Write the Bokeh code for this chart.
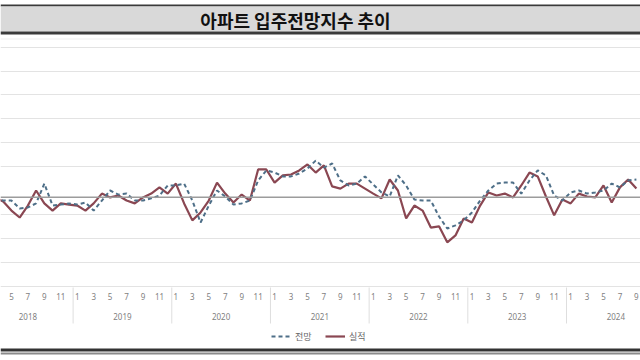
import pandas as pd
from bokeh.plotting import figure
from bokeh.models import (Range1d, FixedTicker, Span, BoxAnnotation, Label,
                          Legend, LegendItem)
from bokeh.core.properties import value
from bokeh.embed import file_html
from bokeh.resources import INLINE

TITLE = "아파트 입주전망지수 추이"
SERIES_FORECAST = "전망"
SERIES_ACTUAL = "실적"

# monthly categories 2018-03 .. 2024-09
months = pd.date_range("2018-03-01", "2024-09-01", freq="MS")

forecast = [
    76.7, 75.8, 75.8, 72.5, 72.9, 74.6, 82.9, 73.7, 74.1, 74.6,
    74.1, 75.0, 71.6, 75.8, 80.0, 78.3, 78.7, 75.8, 75.8, 76.7, 77.9, 82.1,
    82.1, 82.9, 75.8, 66.6, 73.7, 80.0, 77.5, 74.1, 74.6, 75.8, 84.2, 88.4,
    87.5, 85.9, 85.9, 87.1, 89.2, 92.5, 89.6, 91.3, 84.2, 82.1, 82.9, 85.9,
    82.5, 79.2, 77.5, 86.3, 82.1, 76.2, 75.8, 75.8, 69.1, 64.1, 65.4, 67.5,
    70.8, 75.8, 80.0, 82.9, 83.3, 83.3, 78.7, 84.2, 88.4, 86.3, 77.9, 75.8,
    79.2, 80.0, 78.7, 79.2, 80.0, 82.9, 81.3, 84.2, 84.6,
]
actual = [
    77.1, 75.4, 71.6, 68.7, 73.7, 80.0, 74.6, 71.6, 74.6, 74.1,
    73.7, 71.6, 74.6, 78.7, 77.1, 77.9, 75.8, 74.6, 77.1, 78.7, 81.3, 78.7,
    82.9, 74.6, 67.5, 70.8, 75.8, 83.3, 78.7, 75.0, 78.3, 75.8, 88.8, 88.8,
    83.3, 86.3, 86.7, 88.4, 90.9, 87.5, 90.5, 81.7, 80.8, 82.9, 82.9, 80.8,
    78.7, 76.7, 84.6, 80.0, 68.3, 73.7, 71.6, 64.5, 65.0, 58.3, 61.2, 68.3,
    66.6, 73.7, 79.2, 77.9, 78.7, 77.1, 82.1, 87.5, 85.9, 77.5, 69.6, 76.2,
    74.6, 78.7, 77.5, 77.1, 82.1, 75.0, 81.3, 84.6, 80.8,
]

years = [2018, 2019, 2020, 2021, 2022, 2023, 2024]
year_first_month = {2018: 2}          # first category of 2018 in the source chart
tick_months = [1, 3, 5, 7, 9, 11]
grid_values = [40, 50, 60, 70, 90, 100, 110, 120, 130, 140]
baseline = 77.2

# ---- layout -------------------------------------------------------------
W, H = 640, 360
X0, X1 = 2.67, 80.5             # visible month window (the source is cropped)
Y0, Y1 = 8.87, 159.5            # y range covering the whole canvas


def y_at(py):
    """data y for a canvas row (pixels from top)"""
    return Y1 - (Y1 - Y0) * py / H


# month index: 0 = 2018-01
x = [(d.year - 2018) * 12 + d.month - 1 for d in months]

p = figure(width=W, height=H, output_backend="svg", toolbar_location=None,
           x_axis_location=None, y_axis_location=None,
           x_range=Range1d(X0, X1), y_range=Range1d(Y0, Y1),
           min_border=0, outline_line_color=None,
           background_fill_color="white", border_fill_color="white")

p.xgrid.visible = False
p.ygrid.ticker = FixedTicker(ticks=grid_values)
p.ygrid.grid_line_color = "#e3e3e3"
p.ygrid.grid_line_width = 1
p.add_layout(Span(location=baseline, dimension="width",
                  line_color="#9c9c9c", line_width=1.5))

r_a = p.line(x, actual, line_color="#8a4752", line_width=2.2)
r_f = p.line(x, forecast, line_color="#4e6f88", line_width=2, line_dash="4 3")

# ---- category axis (months / years) -------------------------------------
month_ticks, month_texts = [], []
for yv in years:
    for m in tick_months:
        t = (yv - 2018) * 12 + m - 1
        if X0 + 0.5 <= t <= X1:
            month_ticks.append(t)
            month_texts.append(str(m))
p.text(x=month_ticks, y=[y_at(296)] * len(month_ticks), text=month_texts,
       text_align="center", text_baseline="middle",
       text_font=value("Noto Sans"), text_font_size="8px",
       text_color="#7f7f7f")

year_centers, year_texts, year_bounds = [], [], []
for yv in years:
    first = year_first_month.get(yv, 1)
    year_centers.append((yv - 2018) * 12 + (first + 12) / 2 - 1)
    year_texts.append(str(yv))
    year_bounds.append((yv - 2018) * 12 - 0.5)
p.text(x=year_centers, y=[y_at(316)] * len(year_centers), text=year_texts,
       text_align="center", text_baseline="middle",
       text_font=value("Noto Sans"), text_font_size="8px",
       text_color="#7f7f7f")
p.segment(x0=year_bounds, x1=year_bounds,
          y0=[y_at(287)] * len(year_bounds), y1=[y_at(323)] * len(year_bounds),
          line_color="#dedede", line_width=1)

# ---- legend ---------------------------------------------------------------
legend = Legend(items=[LegendItem(label=SERIES_FORECAST, renderers=[r_f]),
                       LegendItem(label=SERIES_ACTUAL, renderers=[r_a])],
                orientation="horizontal", location=(271, H - 343),
                border_line_color=None, background_fill_alpha=0,
                label_text_font="Noto Sans CJK KR", label_text_font_size="9px",
                label_text_color="#666666", glyph_width=20, glyph_height=14,
                spacing=10, padding=2, margin=0, label_standoff=4)
p.add_layout(legend)


# ---- title band and rules (screen units, y measured up from the bottom) ---
def band(top_px, bottom_px, color):
    return BoxAnnotation(left=0, right=W, top=H - top_px, bottom=H - bottom_px,
                         left_units="screen", right_units="screen",
                         top_units="screen", bottom_units="screen",
                         fill_color=color, fill_alpha=1, line_color=None)


p.add_layout(band(4, 6, "#3a3a3a"))
p.add_layout(band(6, 31, "#d9d9d9"))
p.add_layout(band(31, 34, "#3a3a3a"))
p.add_layout(band(38, 39, "#f0f0f0"))
p.add_layout(band(348, 351, "#333333"))
p.add_layout(band(352, 354, "#8a8a8a"))

# the source chart is cropped on the left, so its title sits left of centre
p.add_layout(Label(x=295, y=H - 19, x_units="screen", y_units="screen",
                   text=TITLE, text_align="center", text_baseline="middle",
                   text_font="Noto Sans CJK KR", text_font_size="18px",
                   text_font_style="bold", text_color="#111111"))

open("out.html", "w").write(file_html(p, INLINE))
